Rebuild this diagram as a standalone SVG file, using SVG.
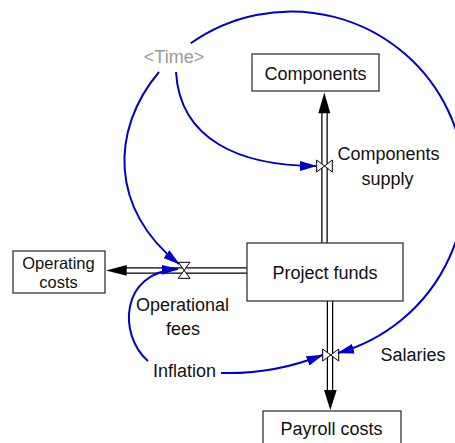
<svg xmlns="http://www.w3.org/2000/svg" width="455" height="443" viewBox="0 0 455 443">
<style>
.box{fill:#fff;stroke:#333;stroke-width:1.3}
.t{font-family:"Liberation Sans",Arial,sans-serif;font-size:18px;fill:#111;text-anchor:middle}
.small{font-size:16.5px}
.grey{fill:#999}
.link{fill:none;stroke:#0000cc;stroke-width:2;marker-end:url(#ba)}
.pipeO{stroke:#000;stroke-width:6.5;fill:none}
.pipeI{stroke:#fff;stroke-width:4;fill:none}
.valve{fill:#fff;stroke:#000;stroke-width:1}
.head{fill:#000}
</style>
<defs>
<marker id="ba" viewBox="0 0 17 10" refX="16" refY="5" markerWidth="17" markerHeight="10" markerUnits="userSpaceOnUse" orient="auto">
<path d="M0,0 L17,5 L0,10 z" fill="#0000cc"/>
</marker>
</defs>
<rect width="455" height="443" fill="#fff"/>
<g id="connectors">
<line class="pipeO" x1="324.5" y1="112" x2="324.5" y2="243"/>
<line class="pipeI" x1="324.5" y1="110" x2="324.5" y2="244"/>
<polygon class="head" points="324.3,92.5 318.3,113.3 330.3,113.3"/>
<line class="pipeO" x1="330" y1="301" x2="330" y2="391"/>
<line class="pipeI" x1="330" y1="300" x2="330" y2="393"/>
<polygon class="head" points="330.3,410 324,390 336.7,390"/>
<line class="pipeO" x1="126" y1="270.5" x2="247" y2="270.5"/>
<line class="pipeI" x1="124" y1="270.5" x2="248" y2="270.5"/>
<polygon class="head" points="106,270.4 126.7,265 126.7,275.8"/>
<path class="valve" d="M316.7,160 L316.7,172 L332.3,160 L332.3,172 Z"/>
<path class="valve" d="M322.7,349 L322.7,361 L338.7,349 L338.7,361 Z"/>
<path class="valve" d="M178.3,262.3 L190,262.3 L178.3,278.3 L190,278.3 Z"/>
<path class="link" d="M176,72 C180,140 240,166 316,166"/>
<path class="link" d="M159,72 C110,130 110,210 179,264"/>
<path class="link" d="M190.7,43.3 A174,174 0 1 1 338,353"/>
<path class="link" d="M148,361 C118,335 120,272 178,269"/>
<path class="link" d="M221,373 C260,374 295,366 322.5,355"/>
</g>
<g id="node-components">
<rect class="box" x="252" y="54" width="127" height="37"/>
<text class="t" x="315.5" y="80">Components</text>
</g>
<g id="node-project-funds">
<rect class="box" x="247" y="243" width="156" height="58"/>
<text class="t" x="325" y="279">Project funds</text>
</g>
<g id="node-payroll-costs">
<rect class="box" x="263" y="411" width="138" height="40"/>
<text class="t" x="331.5" y="435">Payroll costs</text>
</g>
<g id="node-operating-costs">
<rect class="box" x="13" y="251" width="92" height="42"/>
<text class="t small" x="58.5" y="268.5">Operating</text>
<text class="t small" x="58.5" y="287.5">costs</text>
</g>
<g id="node-components-supply">
<text class="t" x="388.5" y="160">Components</text>
<text class="t" x="387.5" y="185">supply</text>
</g>
<g id="node-operational-fees">
<text class="t" x="182.5" y="311">Operational</text>
<text class="t" x="183" y="335">fees</text>
</g>
<g id="node-salaries">
<text class="t" x="413" y="361">Salaries</text>
</g>
<g id="node-inflation">
<text class="t" x="184.5" y="377">Inflation</text>
</g>
<g id="node-time">
<text class="t grey" x="174" y="63">&lt;Time&gt;</text>
</g>
</svg>
